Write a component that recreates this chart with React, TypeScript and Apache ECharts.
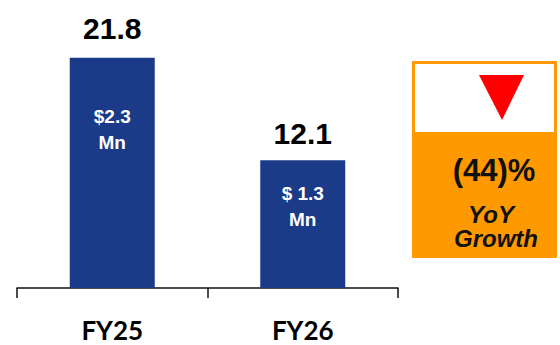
import React, { useEffect, useRef } from "react";
import * as echarts from "echarts";

const categories = ["FY25", "FY26"];
const values = [21.8, 12.1];
const valueLabels = ["21.8", "12.1"];
const innerLabels = ["$2.3\nMn", "$ 1.3\nMn"];
const yoyValue = "(44)%";
const yoyLines = ["YoY", "Growth"];

const topDist = [14, 12];
const innerDist = [46, 20];

export default function App() {
  const ref = useRef<HTMLDivElement>(null);
  useEffect(() => {
    if (!ref.current) return;
    const chart = echarts.init(ref.current, null, { renderer: "svg" });
    chart.setOption({
      animation: false,
      grid: { left: 17, right: 162, top: 24, bottom: 57 },
      xAxis: {
        type: "category",
        data: categories,
        boundaryGap: true,
        axisLine: { lineStyle: { color: "#111", width: 1.5 } },
        axisTick: { show: true, length: 10, lineStyle: { color: "#111", width: 1.5 } },
        axisLabel: {
          color: "#000",
          fontFamily: "Lato",
          fontWeight: "bold",
          fontSize: 26,
          margin: 29,
        },
      },
      yAxis: { type: "value", min: 0, max: 25, show: false, splitLine: { show: false } },
      series: [
        {
          type: "bar",
          barWidth: 85,
          barGap: "-100%",
          itemStyle: { color: "#1B3A87" },
          data: values.map((v, i) => ({
            value: v,
            label: {
              show: true,
              position: "top",
              distance: topDist[i],
              formatter: valueLabels[i],
              color: "#000",
              fontFamily: "Liberation Sans, Arial",
              fontWeight: "bold",
              fontSize: 30,
            },
          })),
        },
        {
          type: "bar",
          barWidth: 85,
          barGap: "-100%",
          itemStyle: { color: "transparent" },
          silent: true,
          data: values.map((v, i) => ({
            value: v,
            label: {
              show: true,
              position: "insideTop",
              distance: innerDist[i],
              formatter: innerLabels[i],
              color: "#fff",
              fontFamily: "Liberation Sans, Arial",
              fontWeight: "bold",
              fontSize: 19,
              lineHeight: 26,
              align: "center",
            },
          })),
        },
      ],
      graphic: [
        { type: "rect", shape: { x: 412, y: 61, width: 145, height: 197 }, style: { fill: "#FF9900" } },
        { type: "rect", shape: { x: 415, y: 64, width: 139, height: 68 }, style: { fill: "#FFFFFF" } },
        {
          type: "polygon",
          shape: { points: [[479, 75], [524, 75], [502, 120]] },
          style: { fill: "#FF0000" },
        },
        {
          type: "text",
          x: 494,
          y: 170,
          style: {
            text: yoyValue,
            fill: "#111",
            font: "bold 31px 'Liberation Sans', Arial",
            textAlign: "center",
            textVerticalAlign: "middle",
          },
        },
        {
          type: "text",
          x: 491,
          y: 214,
          style: {
            text: yoyLines[0],
            fill: "#111",
            font: "italic bold 24px 'Liberation Sans', Arial",
            textAlign: "center",
            textVerticalAlign: "middle",
          },
        },
        {
          type: "text",
          x: 496,
          y: 238.5,
          style: {
            text: yoyLines[1],
            fill: "#111",
            font: "italic bold 24px 'Liberation Sans', Arial",
            textAlign: "center",
            textVerticalAlign: "middle",
          },
        },
      ],
    });
    return () => chart.dispose();
  }, []);
  return (
    <div
      ref={ref}
      style={{ position: "fixed", left: 0, top: 0, width: 560, height: 345, background: "#fff" }}
    />
  );
}
